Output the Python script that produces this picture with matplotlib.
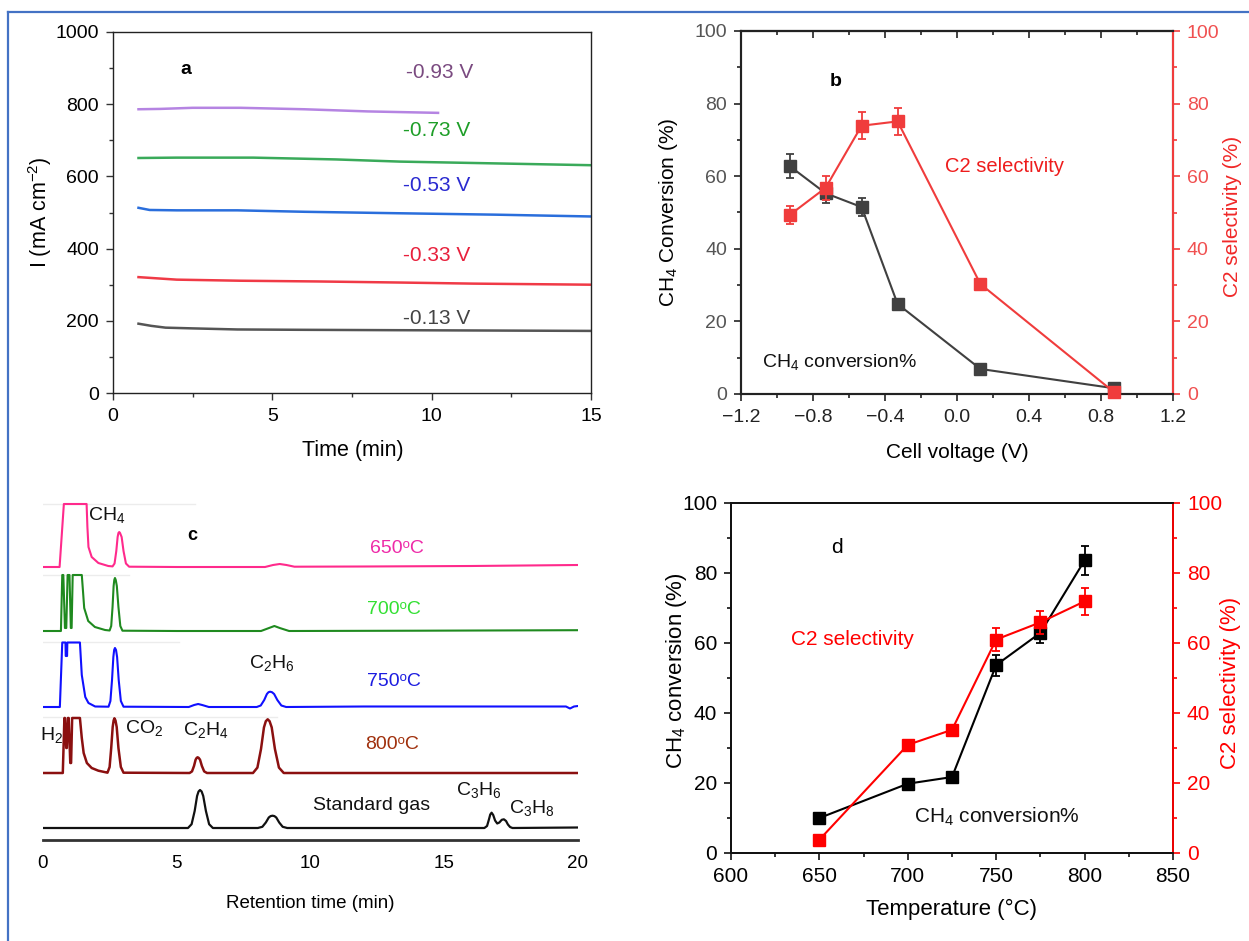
import numpy as np
import matplotlib
matplotlib.use('Agg')
import matplotlib.pyplot as plt
from matplotlib.ticker import MultipleLocator
from matplotlib.lines import Line2D

plt.rcParams['font.family'] = ['Liberation Sans', 'DejaVu Sans']
plt.rcParams['mathtext.fontset'] = 'custom'
plt.rcParams['mathtext.rm'] = 'Liberation Sans'
plt.rcParams['mathtext.it'] = 'Liberation Sans:italic'
plt.rcParams['mathtext.bf'] = 'Liberation Sans:bold'

# ---------------- data: panel a (current density vs time) ----------------
a_labels = ['-0.93 V', '-0.73 V', '-0.53 V', '-0.33 V', '-0.13 V']
a_t093 = [0.8, 1.5, 2.5, 4.0, 6.0, 8.0, 10.2]
a_I093 = [786, 787, 790, 790, 786, 780, 776]
a_t073 = [0.8, 2.0, 4.4, 7.0, 9.0, 12.0, 15.0]
a_I073 = [651, 652, 652, 647, 641, 636, 631]
a_t053 = [0.8, 1.15, 2.0, 3.9, 6.0, 8.9, 12.0, 15.0]
a_I053 = [513, 507, 506, 506, 502, 498, 494, 489]
a_t033 = [0.8, 2.0, 4.0, 6.4, 9.0, 11.3, 15.0]
a_I033 = [321, 314, 311, 309, 306, 303, 300]
a_t013 = [0.8, 1.2, 1.65, 2.5, 3.9, 6.0, 8.9, 12.0, 15.0]
a_I013 = [192, 186, 181, 179, 176, 175, 174, 173, 172]

# ---------------- data: panel b (vs cell voltage) ----------------
b_volt = [-0.93, -0.73, -0.53, -0.33, 0.13, 0.87]
b_ch4 = [62.8, 55.3, 51.5, 24.8, 6.9, 1.6]
b_ch4_err = [3.2, 2.7, 2.5, 0.0, 0.0, 0.0]
b_c2 = [49.3, 56.8, 73.9, 75.1, 30.3, 0.6]
b_c2_err = [2.6, 3.3, 3.7, 3.8, 0.0, 0.0]

# ---------------- data: panel c (chromatograms) ----------------
c_names = ['650\u1d52C', '700\u1d52C', '750\u1d52C', '800\u1d52C', 'Standard gas']
c650_t = [0.0, 0.62, 0.78, 1.63, 1.66, 1.70, 1.82, 2.07, 2.44, 2.60, 2.675, 2.74, 2.79, 2.82, 2.85, 2.88,
          2.94, 3.01, 3.10, 3.22, 5.0, 8.30, 8.60, 8.85, 9.10, 9.40, 12.0, 16.0, 20.0]
c650_s = [0.0, 0.0, 63, 63, 40, 20, 10, 4, 1.0, 0.6, 3.5, 16, 30, 34, 35, 34,
          30, 16, 3.5, 0.3, 0.0, 0.0, 2.0, 3.0, 2.0, 0.3, 0.5, 1.0, 2.0]
c700_t = [0.0, 0.67, 0.72, 0.76, 0.82, 0.87, 0.92, 0.99, 1.04, 1.07, 1.11, 1.45, 1.50, 1.54,
          1.69, 1.94, 2.32, 2.49, 2.55, 2.60, 2.64, 2.665, 2.69, 2.72, 2.76, 2.82, 2.89, 2.97, 5.0,
          8.15, 8.45, 8.65, 8.85, 9.20, 14.0, 20.0]
c700_s = [0, 0, 56, 56, 3, 3, 56, 56, 3, 3, 56, 56, 38, 23,
          10, 4, 1, 0.5, 5, 24, 45, 51, 53, 51, 45, 24, 5, 0.3, 0,
          0, 3, 5, 3, 0, 0.3, 0.8]
c750_t = [0.0, 0.63, 0.72, 0.84, 0.85, 0.90, 0.91, 1.38, 1.45, 1.58, 1.70, 1.95, 2.45, 2.52,
          2.58, 2.63, 2.66, 2.69, 2.73, 2.77, 2.83, 2.91, 3.01, 5.45, 5.65, 5.80, 5.95, 6.20, 7.99, 8.14,
          8.27, 8.37, 8.43, 8.49, 8.56, 8.64, 8.76, 8.91, 9.09, 12.0, 19.55, 19.70, 19.85, 20.0]
c750_s = [0, 0, 64.5, 64.5, 51, 51, 64.5, 64.5, 32, 10, 4, 0.5, 0.3, 6,
          27, 50, 57, 59, 57, 50, 27, 6, 0.3, 0, 2, 3, 2, 0, 0, 1.5,
          7, 13, 14.8, 15.3, 14.8, 13, 7, 1.5, 0, 0.5, 0.5, -1.5, 0.5, 1.0]
c800_t = [0.0, 0.74, 0.80, 0.82, 0.87, 0.89, 0.93, 0.96, 1.02, 1.05, 1.09, 1.38, 1.45, 1.52,
          1.64, 1.82, 2.07, 2.38, 2.41, 2.49, 2.55, 2.605, 2.64, 2.67, 2.71, 2.755, 2.82, 2.91, 3.01,
          5.48, 5.57, 5.645, 5.705, 5.745, 5.78, 5.82, 5.87, 5.94, 6.025, 6.13,
          7.85, 8.015, 8.15, 8.26, 8.33, 8.40, 8.47, 8.55, 8.67, 8.82, 9.00, 20.0]
c800_s = [0, 0, 55, 55, 25, 25, 55, 55, 10, 10, 55, 55, 35, 20,
          10, 5, 2.3, 0.5, 0.3, 6, 25, 46, 52.5, 54.7, 52.5, 46, 25, 6, 0.3,
          0, 1.6, 7, 13.3, 15.1, 15.7, 15.1, 13.3, 7, 1.6, 0,
          0, 5.4, 24, 45.6, 51.8, 53.7, 51.8, 45.6, 24, 5.4, 0, 0]
cstd_t = [0.0, 5.42, 5.555, 5.67, 5.76, 5.815, 5.87, 5.93, 5.99, 6.09, 6.21, 6.35,
          8.03, 8.20, 8.33, 8.44, 8.51, 8.58, 8.65, 8.72, 8.83, 8.96, 9.13,
          16.50, 16.60, 16.67, 16.72, 16.77, 16.83, 16.90, 16.98, 17.06, 17.15, 17.23,
          17.31, 17.38, 17.46, 17.55, 20.0]
cstd_s = [0, 0, 3.8, 17, 32, 36.5, 38, 36.5, 32, 17, 3.8, 0,
          0, 1.2, 5.5, 10.5, 11.9, 12.3, 11.9, 10.5, 5.5, 1.2, 0,
          0, 2, 8.5, 13.5, 15.3, 13, 7.5, 4.5, 5.5, 8.2, 8.7,
          7, 3.5, 1, 0, 0.5]

# ---------------- data: panel d (vs temperature) ----------------
d_temp = [650, 700, 725, 750, 775, 800]
d_ch4 = [10.0, 19.8, 21.7, 53.7, 62.9, 83.6]
d_ch4_err = [0.0, 0.0, 0.0, 3.0, 2.9, 4.2]
d_c2 = [3.8, 30.9, 35.2, 61.0, 65.9, 71.9]
d_c2_err = [0.0, 1.0, 1.0, 3.3, 3.3, 3.8]

# ---------------- figure ----------------
W, H = 1249, 941
fig = plt.figure(figsize=(W / 100, H / 100), dpi=100)
fig.patch.set_facecolor('white')


def add_ax(l, t, r, b):
    return fig.add_axes([l / W, 1 - b / H, (r - l) / W, (b - t) / H])


# border
bc = '#4472c4'
fig.add_artist(Line2D([8 / W, 8 / W], [0, 1 - 12 / H], transform=fig.transFigure, color=bc, lw=1.6))
fig.add_artist(Line2D([8 / W, 1], [1 - 12 / H, 1 - 12 / H], transform=fig.transFigure, color=bc, lw=1.6))

# ---------------- panel a ----------------
axa = add_ax(113, 32, 591, 393)
a_series = [(a_t093, a_I093), (a_t073, a_I073), (a_t053, a_I053), (a_t033, a_I033), (a_t013, a_I013)]
a_line_colors = ['#b584e2', '#3aaa5a', '#2a6edc', '#f03a46', '#555555']
a_text_colors = ['#7a4a80', '#1e9e28', '#2a2ad0', '#e8203c', '#444444']
a_text_pos = [(10.25, 887), (10.15, 727), (10.15, 575), (10.15, 381), (10.15, 207)]
for (t, I), lc, tc, (tx, ty), lab in zip(a_series, a_line_colors, a_text_colors, a_text_pos, a_labels):
    axa.plot(t, I, color=lc, lw=1.8)
    axa.text(tx, ty, lab, color=tc, fontsize=15, ha='center', va='center')
axa.text(2.3, 895, 'a', fontsize=14, fontweight='bold', ha='center', va='center')
axa.set_xlim(0, 15)
axa.set_ylim(0, 1000)
axa.xaxis.set_major_locator(MultipleLocator(5))
axa.xaxis.set_minor_locator(MultipleLocator(2.5))
axa.yaxis.set_major_locator(MultipleLocator(200))
axa.yaxis.set_minor_locator(MultipleLocator(100))
axa.tick_params(which='both', direction='out', top=False, right=False, labelsize=14, color='#333333')
axa.tick_params(which='major', length=5, width=1)
axa.tick_params(which='minor', length=3, width=1)
axa.tick_params(axis='x', pad=6)
axa.tick_params(axis='y', pad=5)
for s in axa.spines.values():
    s.set_linewidth(1.0)
    s.set_color('#222222')
axa.set_xlabel('Time (min)', fontsize=15.5, va='center')
axa.xaxis.set_label_coords(0.502, -0.158)
axa.set_ylabel('I (mA cm$^{-2}$)', fontsize=15.5, va='center', ha='center')
axa.yaxis.set_label_coords(-0.153, 0.50)

# ---------------- panel b ----------------
axb = add_ax(741, 31, 1173, 394)
gray_b = '#404040'
red_b = '#f03c3c'
axb.errorbar(b_volt, b_ch4, yerr=b_ch4_err, color=gray_b, marker='s', ms=8, lw=1.5,
             capsize=3, capthick=1.3, elinewidth=1.3, clip_on=False, zorder=3)
axb.set_xlim(-1.2, 1.2)
axb.set_ylim(0, 100)
axb.xaxis.set_major_locator(MultipleLocator(0.4))
axb.xaxis.set_minor_locator(MultipleLocator(0.2))
axb.yaxis.set_major_locator(MultipleLocator(20))
axb.yaxis.set_minor_locator(MultipleLocator(10))
axb.tick_params(which='both', direction='out', right=False, top=False, labelsize=14, color='#222222')
axb.tick_params(which='major', length=5, width=1.2)
axb.tick_params(which='minor', length=3, width=1.2)
axb.tick_params(axis='y', labelcolor='#555555', pad=5)
axb.tick_params(axis='x', pad=6, labelcolor='#222222')
axb2 = axb.twinx()
axb2.errorbar(b_volt, b_c2, yerr=b_c2_err, color=red_b, marker='s', ms=8, lw=1.5,
              capsize=3, capthick=1.3, elinewidth=1.3, clip_on=False, zorder=3)
axb2.set_ylim(0, 100)
axb2.yaxis.set_major_locator(MultipleLocator(20))
axb2.yaxis.set_minor_locator(MultipleLocator(10))
axb2.tick_params(which='both', direction='out', labelsize=14, color=red_b, labelcolor='#f05050')
axb2.tick_params(which='major', length=5, width=1.2)
axb2.tick_params(which='minor', length=3, width=1.2)
axb2.tick_params(axis='y', pad=5)
# top ticks
axb_top = axb.secondary_xaxis('top')
axb_top.xaxis.set_major_locator(MultipleLocator(0.4))
axb_top.xaxis.set_minor_locator(MultipleLocator(0.2))
axb_top.tick_params(which='both', direction='in', labeltop=False, color='#222222', width=1.2)
axb_top.tick_params(which='major', length=5)
axb_top.tick_params(which='minor', length=3)
for ax_ in (axb, axb2):
    for k, s in ax_.spines.items():
        s.set_linewidth(1.5)
        s.set_color('#222222')
axb2.spines['right'].set_color(red_b)
axb_top.spines['top'].set_linewidth(1.5)
axb_top.spines['top'].set_color('#222222')
axb.text(-0.705, 84.9, 'b', fontsize=14, fontweight='bold', ha='left', va='baseline')
axb.text(-0.067, 61.2, 'C2 selectivity', fontsize=14.5, color='#ee1c1c', ha='left', va='baseline')
axb.text(-1.083, 7.5, 'CH$_4$ conversion%', fontsize=14, color='#111111', ha='left', va='baseline')
axb.set_xlabel('Cell voltage (V)', fontsize=15, va='center')
axb.xaxis.set_label_coords(0.5, -0.16)
axb.set_ylabel('CH$_4$ Conversion (%)', fontsize=15, va='center', ha='center')
axb.yaxis.set_label_coords(-0.167, 0.5)
axb2.set_ylabel('C2 selectivity (%)', fontsize=15, color='#f02828', va='center', ha='center')
axb2.yaxis.set_label_coords(1.137, 0.49)

# ---------------- panel c ----------------
axc = add_ax(43, 490, 578, 840)
c_t = [c650_t, c700_t, c750_t, c800_t, cstd_t]
c_s = [c650_s, c700_s, c750_s, c800_s, cstd_s]
c_offsets = [273, 209, 133, 67, 12]
c_line_colors = ['#ff2a8c', '#1f8a1f', '#1010ff', '#8b1010', '#111111']
c_lw = [1.5, 1.5, 1.5, 1.8, 1.6]
faint = [(0, 5.7, 336.5), (0, 3.2, 265.5), (0, 5.1, 198), (0, 8.75, 123)]
for x0, x1, yy in faint:
    axc.plot([x0, x1], [yy, yy], color='#ececec', lw=1.0, zorder=1)
for t, s, off, col, lw in zip(c_t, c_s, c_offsets, c_line_colors, c_lw):
    axc.plot(t, np.asarray(s) + off, color=col, lw=lw, zorder=2)
c_text_colors = ['#ee2aa8', '#33e033', '#1c1ce0', '#a0300c']
c_text_pos = [(12.22, 287.3), (12.11, 226), (12.11, 154), (12.05, 90.7)]
for name, col, (tx, ty) in zip(c_names[:4], c_text_colors, c_text_pos):
    axc.text(tx, ty, name, color=col, fontsize=14, ha='left', va='baseline')
axc.text(10.09, 30, c_names[4], color='#111111', fontsize=14, ha='left', va='baseline')
c_species = ['CH$_4$', 'C$_2$H$_6$', 'H$_2$', 'CO$_2$', 'C$_2$H$_4$', 'C$_3$H$_6$', 'C$_3$H$_8$']
c_species_pos = [(1.68, 320), (7.71, 171.7), (-0.13, 100), (3.07, 106.7), (5.24, 105),
                 (15.44, 45), (17.42, 27.3)]
for sp, (tx, ty) in zip(c_species, c_species_pos):
    axc.text(tx, ty, sp, color='#111111', fontsize=14, ha='left', va='baseline')
axc.text(5.38, 300, 'c', fontsize=13, fontweight='bold', ha='left', va='baseline')
axc.set_xlim(0, 20)
axc.set_ylim(0, 350)
for k in ('left', 'right', 'top'):
    axc.spines[k].set_visible(False)
axc.spines['bottom'].set_linewidth(2.0)
axc.spines['bottom'].set_color('#333333')
axc.set_yticks([])
axc.set_xticks([0, 5, 10, 15, 20])
axc.tick_params(axis='x', length=0, labelsize=13.5, pad=11)
axc.set_xlabel('Retention time (min)', fontsize=13.5, va='center')
axc.xaxis.set_label_coords(0.5, -0.18)

# ---------------- panel d ----------------
axd = add_ax(731, 503, 1173, 853)
red_d = '#ff0000'
axd.errorbar(d_temp, d_ch4, yerr=d_ch4_err, color='black', marker='s', ms=8.5, lw=1.5,
             capsize=3, capthick=1.3, elinewidth=1.3, clip_on=False, zorder=3)
axd.set_xlim(600, 850)
axd.set_ylim(0, 100)
axd.xaxis.set_major_locator(MultipleLocator(50))
axd.xaxis.set_minor_locator(MultipleLocator(25))
axd.yaxis.set_major_locator(MultipleLocator(20))
axd.yaxis.set_minor_locator(MultipleLocator(10))
axd.tick_params(which='both', direction='out', right=False, top=False, labelsize=15, color='#111111')
axd.tick_params(which='major', length=5, width=1.2)
axd.tick_params(which='minor', length=3, width=1.2)
axd.tick_params(axis='x', pad=5)
axd.tick_params(axis='y', pad=5)
axd2 = axd.twinx()
axd2.errorbar(d_temp, d_c2, yerr=d_c2_err, color=red_d, marker='s', ms=8.5, lw=1.5,
              capsize=3, capthick=1.3, elinewidth=1.3, clip_on=False, zorder=3)
axd2.set_ylim(0, 100)
axd2.yaxis.set_major_locator(MultipleLocator(20))
axd2.yaxis.set_minor_locator(MultipleLocator(10))
axd2.tick_params(which='both', direction='out', labelsize=15, color=red_d, labelcolor=red_d)
axd2.tick_params(which='major', length=5, width=1.2)
axd2.tick_params(which='minor', length=3, width=1.2)
axd2.tick_params(axis='y', pad=5)
for ax_ in (axd, axd2):
    for k, s in ax_.spines.items():
        s.set_linewidth(1.3)
        s.set_color('#111111')
axd2.spines['right'].set_color(red_d)
axd.text(656.6, 85.7, 'd', fontsize=15, ha='left', va='baseline')
axd.text(633.9, 59.5, 'C2 selectivity', fontsize=15, color=red_d, ha='left', va='baseline')
axd.text(703.5, 8.76, 'CH$_4$ conversion%', fontsize=15, color='#111111', ha='left', va='baseline')
axd.set_xlabel('Temperature (\u00b0C)', fontsize=16, va='center')
axd.xaxis.set_label_coords(0.5, -0.162)
axd.set_ylabel('CH$_4$ conversion (%)', fontsize=16, va='center', ha='center')
axd.yaxis.set_label_coords(-0.124, 0.52)
axd2.set_ylabel('C2 selectivity (%)', fontsize=16, color=red_d, va='center', ha='center')
axd2.yaxis.set_label_coords(1.13, 0.487)

fig.savefig('out.png', dpi=100, facecolor='white')
